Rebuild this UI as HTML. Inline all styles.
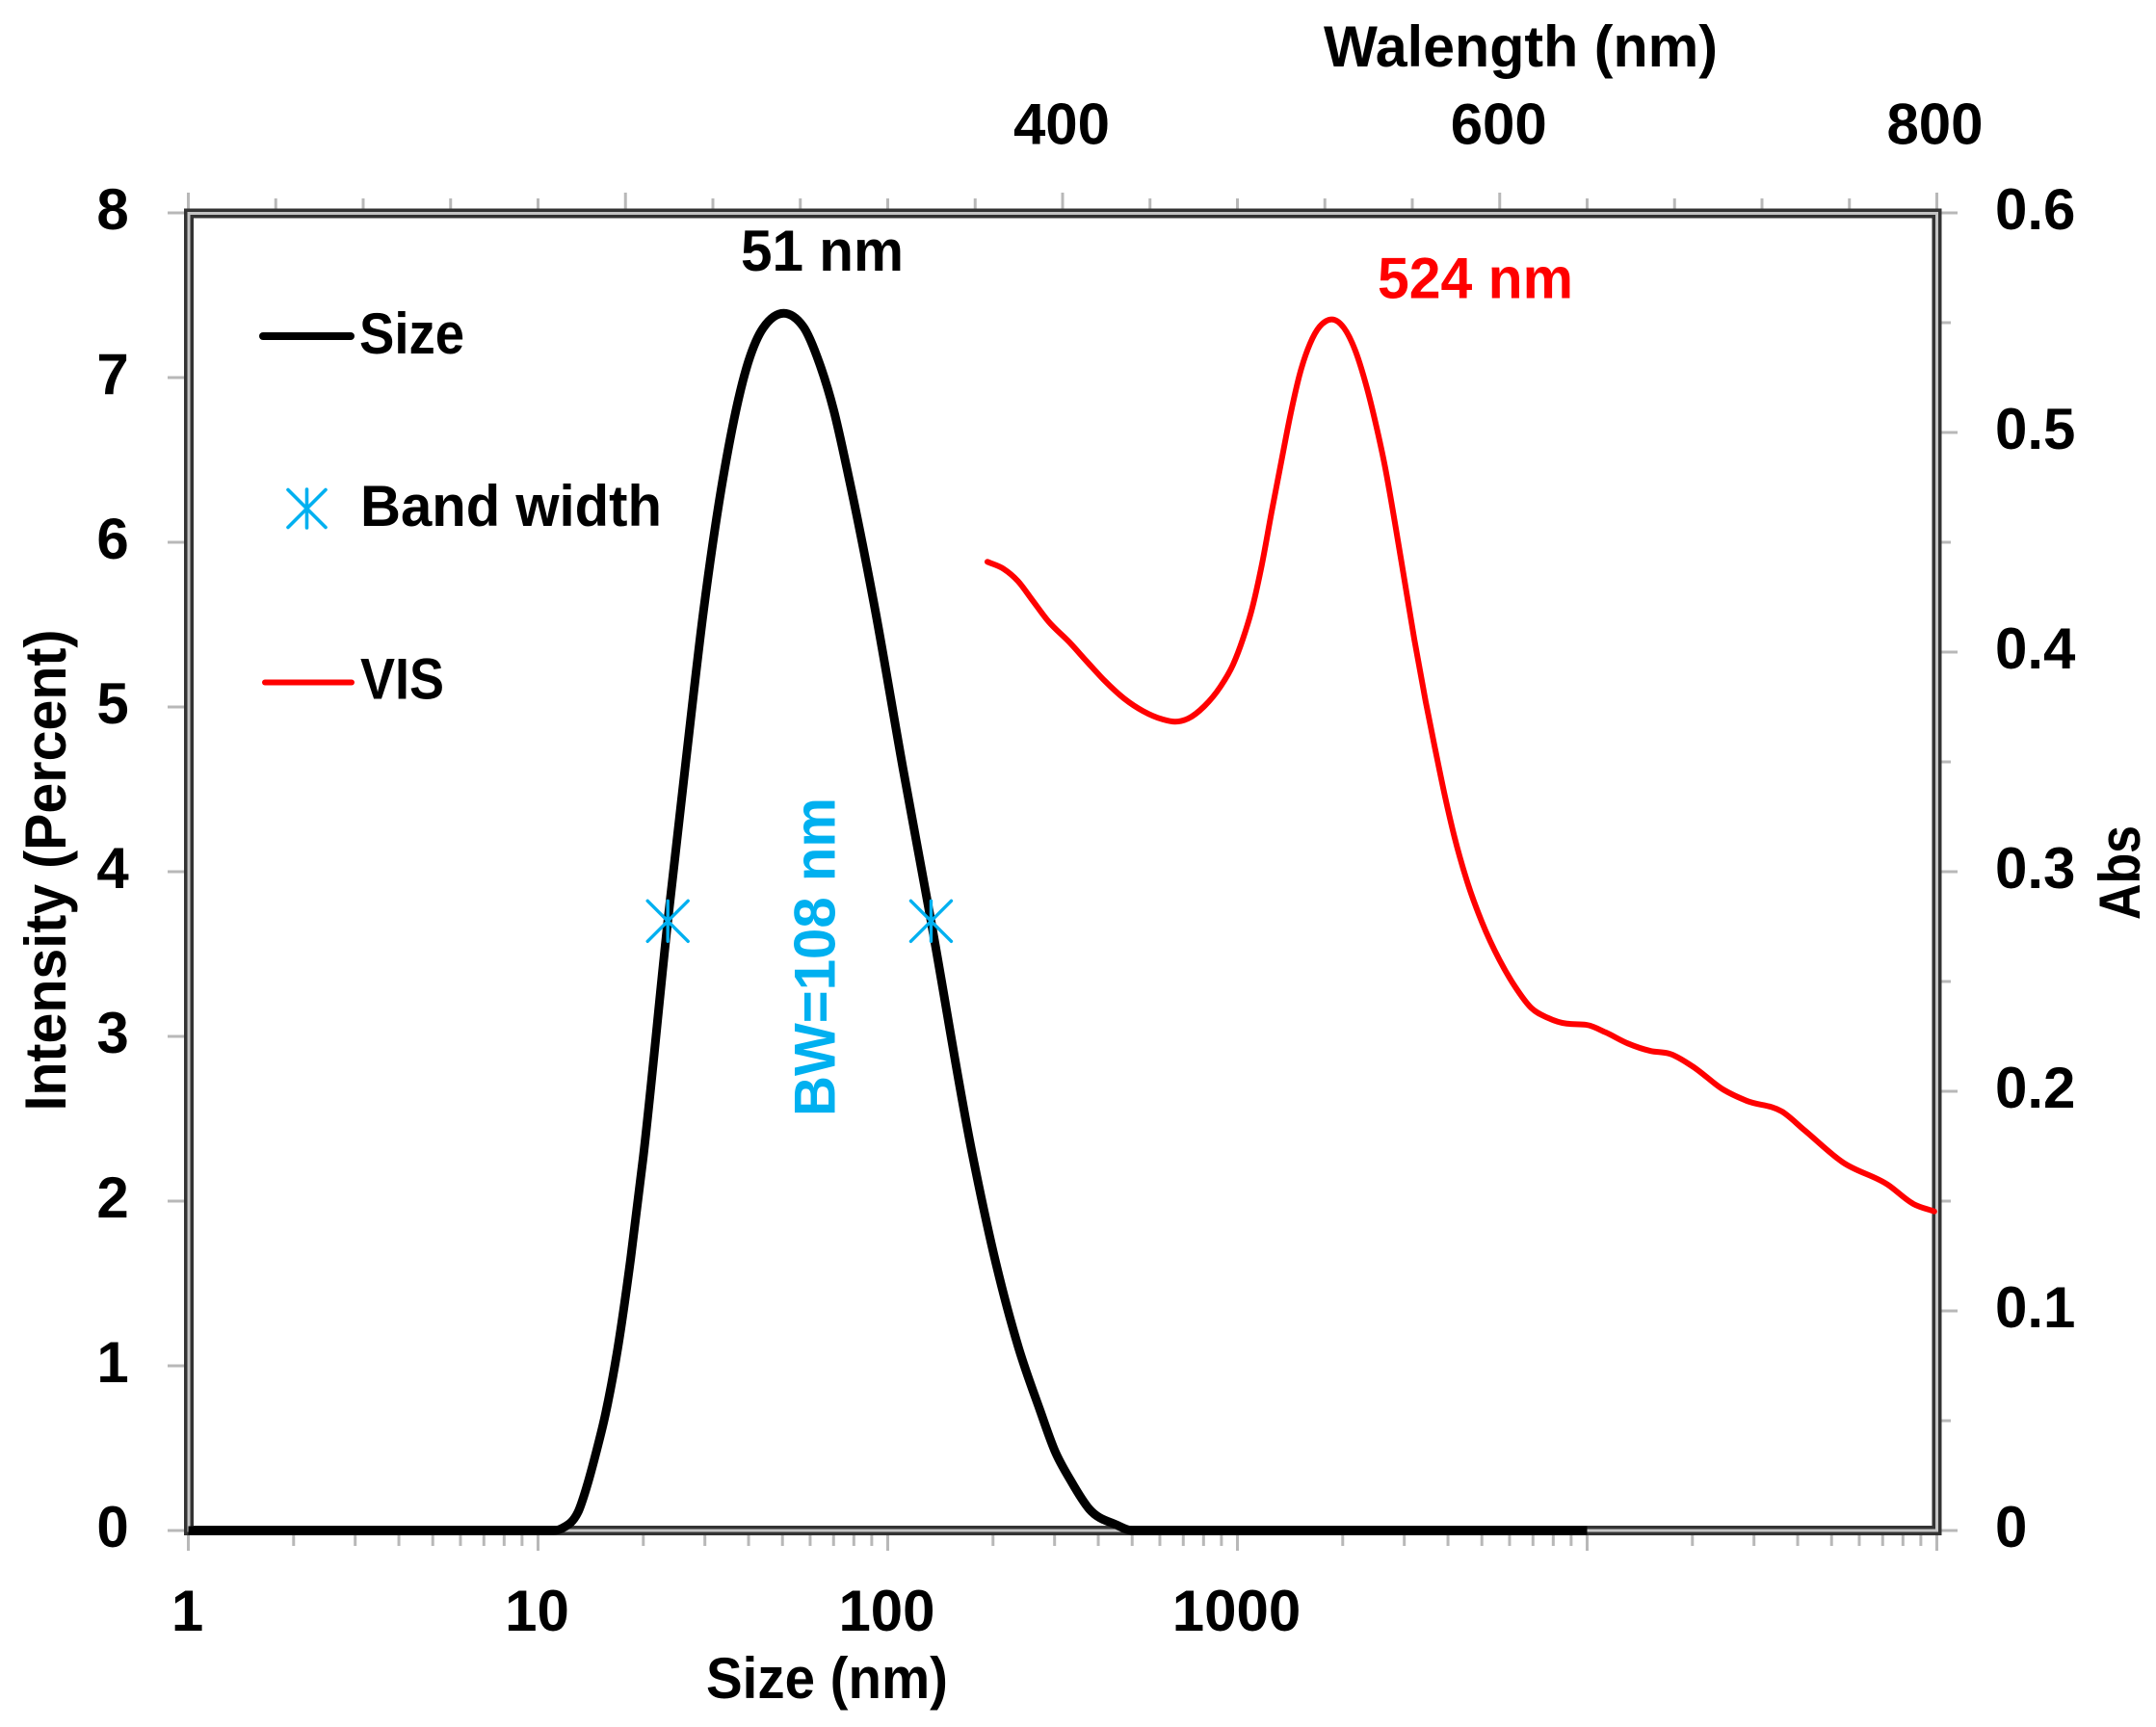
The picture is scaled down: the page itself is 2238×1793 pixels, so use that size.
<!DOCTYPE html>
<html lang="en">
<head>
<meta charset="utf-8">
<title>Size distribution and VIS absorbance</title>
<style>
html,body{margin:0;padding:0;background:#fff;}
svg{display:block;}
text{font-family:"Liberation Sans",sans-serif;font-weight:700;font-size:60px;fill:#000;}
</style>
</head>
<body>
<svg id="chart" xmlns="http://www.w3.org/2000/svg" width="2238" height="1793" viewBox="0 0 2238 1793">
  <rect x="0" y="0" width="2238" height="1793" fill="#ffffff"/>
  <g id="ticks"></g>
  <g>
    <rect x="196" y="221.5" width="1814.5" height="1367.5" fill="none" stroke="#333333" stroke-width="10"/>
    <rect x="196" y="221.5" width="1814.5" height="1367.5" fill="none" stroke="#c4c4c4" stroke-width="3"/>
  </g>
  <g id="tickLabels"></g>
  <g id="series"></g>

  <text x="733" y="1763" textLength="251" lengthAdjust="spacingAndGlyphs">Size (nm)</text>
  <text x="1374" y="69" textLength="409" lengthAdjust="spacingAndGlyphs">Walength (nm)</text>
  <text transform="translate(68,1153.5) rotate(-90)" x="0" y="0" textLength="500" lengthAdjust="spacingAndGlyphs">Intensity (Percent)</text>
  <text transform="translate(2221,955) rotate(-90)" x="0" y="0" textLength="98" lengthAdjust="spacingAndGlyphs">Abs</text>

  <text x="769" y="281" textLength="169" lengthAdjust="spacingAndGlyphs">51 nm</text>
  <text x="1430" y="309.5" textLength="203" lengthAdjust="spacingAndGlyphs" style="fill:#ff0000">524 nm</text>
  <text transform="translate(866.5,1159) rotate(-90)" x="0" y="0" textLength="331" lengthAdjust="spacingAndGlyphs" style="fill:#00b0f0">BW=108 nm</text>

  <g>
    <line x1="273" y1="349" x2="364" y2="349" stroke="#000" stroke-width="8" stroke-linecap="round"/>
    <text x="373" y="367" textLength="109" lengthAdjust="spacingAndGlyphs">Size</text>
    <g stroke="#00b0f0" stroke-width="3.6" stroke-linecap="round">
      <line x1="318.5" y1="508" x2="318.5" y2="548"/>
      <line x1="299" y1="508.5" x2="338" y2="547.5"/>
      <line x1="338" y1="508.5" x2="299" y2="547.5"/>
    </g>
    <text x="374" y="546" textLength="313" lengthAdjust="spacingAndGlyphs">Band width</text>
    <line x1="275" y1="708.5" x2="365" y2="708.5" stroke="#ff0000" stroke-width="6" stroke-linecap="round"/>
    <text x="374" y="725.5" textLength="87" lengthAdjust="spacingAndGlyphs">VIS</text>
  </g>
</svg>
<script>
// ---- chart data ----
const sizeNm = [1, 10, 11.1, 11.75, 13, 13.8, 14.6, 15.6, 16.9, 18.4, 20, 23.5, 26.5, 29.8, 34.2, 40, 44, 50.4, 57.3, 63.7, 70.1, 77.1, 91.3, 110.5, 133, 174, 204, 237, 272, 301, 333, 377, 450, 500, 560, 1000, 10000];
const intensityPct = [0, 0, 0, 0.015, 0.11, 0.27, 0.46, 0.71, 1.105, 1.65, 2.27, 3.7, 4.68, 5.6, 6.45, 7.1, 7.3, 7.39, 7.31, 7.09, 6.8, 6.41, 5.63, 4.63, 3.7, 2.3, 1.62, 1.105, 0.735, 0.48, 0.306, 0.13, 0.035, 0, 0, 0, 0];

const wavelengthNm = [365.6, 373, 379.6, 386.2, 393.5, 403.1, 411.1, 419.2, 428.1, 436.9, 445.7, 451.5, 457.4, 464.8, 472.1, 478, 482.4, 486.8, 491.2, 495.6, 500, 504.4, 508.8, 513.2, 517.6, 523.2, 528.6, 533.8, 538.9, 543.3, 547.7, 552.1, 556.5, 560.9, 566.1, 570.5, 574.9, 579.3, 585.2, 591.8, 599.9, 607.2, 614.5, 621.9, 630.7, 639.5, 648.3, 658.6, 668.9, 677.7, 688, 702.6, 712.9, 729.1, 739.4, 756.9, 777.5, 789.3, 798.8];
const absorbance = [0.4411, 0.4379, 0.4323, 0.4236, 0.414, 0.4045, 0.3957, 0.387, 0.3789, 0.3731, 0.3694, 0.3683, 0.3697, 0.3753, 0.3841, 0.3943, 0.4057, 0.4202, 0.4399, 0.4636, 0.4864, 0.5088, 0.5276, 0.5404, 0.5482, 0.5515, 0.5478, 0.5376, 0.5215, 0.5039, 0.4835, 0.4586, 0.4323, 0.406, 0.3776, 0.3557, 0.3346, 0.3158, 0.2952, 0.2772, 0.2598, 0.2474, 0.2379, 0.2335, 0.2308, 0.2303, 0.2269, 0.2218, 0.2184, 0.2171, 0.2115, 0.2006, 0.1957, 0.1908, 0.1823, 0.1677, 0.1575, 0.1487, 0.1453];

const bandWidthSizes = [23.5, 133];
const bandWidthIntensity = [3.7, 3.7];

const leftTickValues = [0, 1, 2, 3, 4, 5, 6, 7, 8];
const leftTickLabels = ['0', '1', '2', '3', '4', '5', '6', '7', '8'];
const rightMajorValues = [0, 0.1, 0.2, 0.3, 0.4, 0.5, 0.6];
const rightTickLabels = ['0', '0.1', '0.2', '0.3', '0.4', '0.5', '0.6'];
const rightMinorValues = [0.05, 0.15, 0.25, 0.35, 0.45, 0.55];
const bottomDecades = [1, 10, 100, 1000, 10000, 100000];
const bottomMinorMultipliers = [2, 3, 4, 5, 6, 7, 8, 9];
const bottomTickLabels = ['1', '10', '100', '1000'];
const topMajorValues = [0, 200, 400, 600, 800];
const topMinorValues = [40, 80, 120, 160, 240, 280, 320, 360, 440, 480, 520, 560, 640, 680, 720, 760];
const topLabelValues = [400, 600, 800];
const topTickLabels = ['400', '600', '800'];

// ---- axis functions ----
const PLOT = {left: 195.5, right: 2010.5, top: 221, bottom: 1589};
function xLog(size) { return PLOT.left + Math.log10(size) * (PLOT.right - PLOT.left) / 5; }
function xTop(nm) { return PLOT.left + nm * (PLOT.right - PLOT.left) / 800; }
function yLeft(v) { return PLOT.bottom - v * (PLOT.bottom - PLOT.top) / 8; }
function yRight(v) { return PLOT.bottom - v * (PLOT.bottom - PLOT.top) / 0.6; }

const SVGNS = 'http://www.w3.org/2000/svg';
const tickGroup = document.getElementById('ticks');
const labelGroup = document.getElementById('tickLabels');
const seriesGroup = document.getElementById('series');

function makeTick(x1, y1, x2, y2) {
  const l = document.createElementNS(SVGNS, 'line');
  l.setAttribute('x1', x1);
  l.setAttribute('y1', y1);
  l.setAttribute('x2', x2);
  l.setAttribute('y2', y2);
  l.setAttribute('stroke', '#b8b8b8');
  l.setAttribute('stroke-width', '3');
  tickGroup.appendChild(l);
  return l;
}
function makeLabel(str, x, y, anchor) {
  const t = document.createElementNS(SVGNS, 'text');
  t.setAttribute('x', x);
  t.setAttribute('y', y);
  t.setAttribute('text-anchor', anchor);
  t.textContent = str;
  labelGroup.appendChild(t);
  return t;
}
// Monotone cubic through the points (x strictly increasing)
function smoothPath(pts) {
  const n = pts.length;
  const slopes = [];
  const tangents = [];
  for (let i = 0; i < n - 1; i++) {
    slopes.push((pts[i + 1][1] - pts[i][1]) / (pts[i + 1][0] - pts[i][0]));
  }
  for (let i = 0; i < n; i++) {
    if (i === 0) { tangents.push(slopes[0]); continue; }
    if (i === n - 1) { tangents.push(slopes[n - 2]); continue; }
    const h0 = pts[i][0] - pts[i - 1][0], h1 = pts[i + 1][0] - pts[i][0];
    const s0 = slopes[i - 1], s1 = slopes[i];
    const p = (s0 * h1 + s1 * h0) / (h0 + h1);
    tangents.push((Math.sign(s0) + Math.sign(s1)) * Math.min(Math.abs(s0), Math.abs(s1), 0.5 * Math.abs(p)));
  }
  let d = 'M' + pts[0][0].toFixed(2) + ' ' + pts[0][1].toFixed(2);
  for (let i = 0; i < n - 1; i++) {
    const dx = (pts[i + 1][0] - pts[i][0]) / 3;
    d += 'C' + (pts[i][0] + dx).toFixed(2) + ' ' + (pts[i][1] + dx * tangents[i]).toFixed(2) + ' ' +
      (pts[i + 1][0] - dx).toFixed(2) + ' ' + (pts[i + 1][1] - dx * tangents[i + 1]).toFixed(2) + ' ' +
      pts[i + 1][0].toFixed(2) + ' ' + pts[i + 1][1].toFixed(2);
  }
  return d;
}

// ---- ticks ----
leftTickValues.forEach(function (v, i) {
  const tick = makeTick(174, yLeft(v), 196, yLeft(v));
  
  
  const lab = makeLabel(leftTickLabels[i], 117, yLeft(v) + 17, 'middle');
  
  
});
rightMajorValues.forEach(function (v, i) {
  const tick = makeTick(2010, yRight(v), 2032, yRight(v));
  
  
  const lab = makeLabel(rightTickLabels[i], 2071, yRight(v) + 17, 'start');
  
  
});
rightMinorValues.forEach(function (v) {
  const tick = makeTick(2010, yRight(v), 2025, yRight(v));
  
  
});
bottomDecades.forEach(function (d, i) {
  const tick = makeTick(xLog(d), 1589, xLog(d), 1610);
  
  
  if (i < bottomTickLabels.length) {
    const lab = makeLabel(bottomTickLabels[i], xLog(d) - 1, 1693, 'middle');
    
    
  }
  if (i < bottomDecades.length - 1) {
    bottomMinorMultipliers.forEach(function (m) {
      const minor = makeTick(xLog(d * m), 1589, xLog(d * m), 1605);
      
      
    });
  }
});
topMajorValues.forEach(function (v) {
  const tick = makeTick(xTop(v), 200, xTop(v), 221);
  
  
});
topMinorValues.forEach(function (v) {
  const tick = makeTick(xTop(v), 206, xTop(v), 221);
  
  
});
topLabelValues.forEach(function (v, i) {
  const lab = makeLabel(topTickLabels[i], xTop(v) - (v === 800 ? 2 : 1), 149.5, 'middle');
  
  
});

// ---- series ----
const sizeLine = document.createElementNS(SVGNS, 'path');


sizeLine.setAttribute('d', smoothPath(sizeNm.map(function (s, i) { return [xLog(s), yLeft(intensityPct[i])]; })));
sizeLine.setAttribute('fill', 'none');
sizeLine.setAttribute('stroke', '#000');
sizeLine.setAttribute('stroke-width', '9');
sizeLine.setAttribute('stroke-linejoin', 'round');
seriesGroup.appendChild(sizeLine);

const visLine = document.createElementNS(SVGNS, 'path');


visLine.setAttribute('d', smoothPath(wavelengthNm.map(function (w, i) { return [xTop(w), yRight(absorbance[i])]; })));
visLine.setAttribute('fill', 'none');
visLine.setAttribute('stroke', '#ff0000');
visLine.setAttribute('stroke-width', '6');
visLine.setAttribute('stroke-linejoin', 'round');
visLine.setAttribute('stroke-linecap', 'round');
seriesGroup.appendChild(visLine);

bandWidthSizes.forEach(function (s, i) {
  const cx = xLog(s), cy = yLeft(bandWidthIntensity[i]);
  const g = document.createElementNS(SVGNS, 'g');
  
  
  g.setAttribute('stroke', '#00b0f0');
  g.setAttribute('stroke-width', '3.4');
  g.setAttribute('stroke-linecap', 'round');
  [[0, -21, 0, 21], [-21, -21, 21, 21], [21, -21, -21, 21]].forEach(function (o) {
    const l = document.createElementNS(SVGNS, 'line');
    l.setAttribute('x1', cx + o[0]);
    l.setAttribute('y1', cy + o[1]);
    l.setAttribute('x2', cx + o[2]);
    l.setAttribute('y2', cy + o[3]);
    g.appendChild(l);
  });
  seriesGroup.appendChild(g);
});
</script>
</body>
</html>
